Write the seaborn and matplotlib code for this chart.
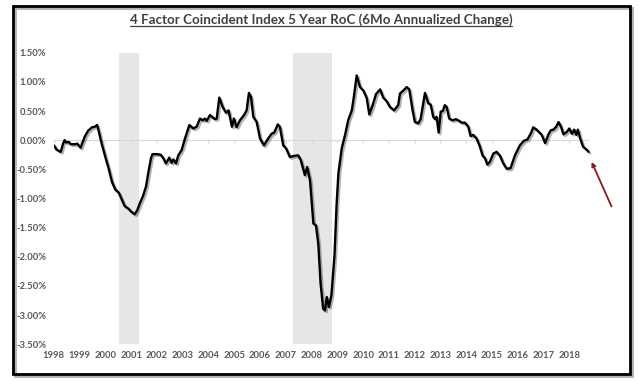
import numpy as np
import pandas as pd
import matplotlib
matplotlib.use("Agg")
import matplotlib.pyplot as plt
import matplotlib.patheffects as pe
from matplotlib.patches import Rectangle
from matplotlib.lines import Line2D
import seaborn as sns

# data (decimal year, % change)
years = [1998.01, 1998.10, 1998.27, 1998.36, 1998.42, 1998.48, 1998.58, 1998.66, 1998.81, 1998.91,
         1999.04, 1999.20, 1999.33, 1999.48, 1999.59, 1999.68, 1999.74, 1999.84, 2000.00, 2000.13,
         2000.26, 2000.39, 2000.52, 2000.65, 2000.75, 2000.91, 2001.01, 2001.14, 2001.24, 2001.34,
         2001.46, 2001.58, 2001.67, 2001.77, 2001.83, 2002.00, 2002.15, 2002.25, 2002.35, 2002.48,
         2002.57, 2002.64, 2002.74, 2002.83, 2002.96, 2003.09, 2003.26, 2003.41, 2003.54, 2003.67,
         2003.78, 2003.86, 2003.93, 2004.06, 2004.25, 2004.32, 2004.42, 2004.55, 2004.68, 2004.78,
         2004.91, 2004.99, 2005.09, 2005.22, 2005.38, 2005.48, 2005.57, 2005.65, 2005.74, 2005.87,
         2006.00, 2006.15, 2006.32, 2006.45, 2006.55, 2006.69, 2006.77, 2006.90, 2007.01, 2007.16,
         2007.32, 2007.48, 2007.58, 2007.74, 2007.83, 2007.94, 2008.07, 2008.17, 2008.26, 2008.35,
         2008.45, 2008.52, 2008.59, 2008.67, 2008.77, 2008.89, 2008.97, 2009.04, 2009.17, 2009.30,
         2009.42, 2009.56, 2009.64, 2009.75, 2009.88, 2010.01, 2010.14, 2010.24, 2010.37, 2010.50,
         2010.66, 2010.78, 2010.91, 2011.04, 2011.20, 2011.36, 2011.43, 2011.56, 2011.69, 2011.79,
         2011.92, 2012.01, 2012.14, 2012.23, 2012.40, 2012.53, 2012.62, 2012.72, 2012.79, 2012.85,
         2012.93, 2013.01, 2013.09, 2013.17, 2013.24, 2013.34, 2013.47, 2013.60, 2013.73, 2013.82,
         2013.95, 2014.08, 2014.17, 2014.27, 2014.40, 2014.53, 2014.64, 2014.73, 2014.82, 2014.92,
         2015.05, 2015.18, 2015.31, 2015.44, 2015.57, 2015.72, 2015.89, 2016.08, 2016.24, 2016.37,
         2016.50, 2016.60, 2016.73, 2016.93, 2017.06, 2017.19, 2017.28, 2017.38, 2017.49, 2017.58,
         2017.67, 2017.77, 2017.90, 2018.00, 2018.10, 2018.19, 2018.27, 2018.33, 2018.42, 2018.53,
         2018.66, 2018.75]
roc = [-0.09, -0.16, -0.20, -0.06, 0.00, -0.04, -0.03, -0.07, -0.07, -0.06,
       -0.13, 0.06, 0.16, 0.22, 0.23, 0.26, 0.16, -0.03, -0.29, -0.49,
       -0.72, -0.85, -0.90, -1.03, -1.13, -1.18, -1.23, -1.27, -1.20, -1.08,
       -0.96, -0.79, -0.55, -0.31, -0.24, -0.24, -0.25, -0.31, -0.40, -0.30,
       -0.39, -0.33, -0.40, -0.26, -0.17, 0.03, 0.26, 0.20, 0.23, 0.37,
       0.34, 0.37, 0.33, 0.43, 0.36, 0.37, 0.73, 0.57, 0.47, 0.51,
       0.23, 0.37, 0.22, 0.34, 0.43, 0.51, 0.81, 0.74, 0.40, 0.31,
       0.03, -0.09, 0.03, 0.11, 0.13, 0.27, 0.23, -0.09, -0.14, -0.29,
       -0.27, -0.26, -0.34, -0.60, -0.46, -0.69, -1.43, -1.46, -1.77, -2.46,
       -2.89, -2.92, -2.69, -2.86, -2.66, -1.97, -1.11, -0.57, -0.14, 0.09,
       0.34, 0.51, 0.74, 1.11, 0.91, 0.85, 0.72, 0.44, 0.60, 0.79,
       0.87, 0.73, 0.67, 0.57, 0.51, 0.60, 0.80, 0.85, 0.91, 0.87,
       0.51, 0.31, 0.29, 0.36, 0.81, 0.63, 0.61, 0.40, 0.36, 0.40,
       0.13, 0.49, 0.50, 0.60, 0.57, 0.37, 0.34, 0.36, 0.33, 0.30,
       0.30, 0.23, 0.07, 0.09, 0.03, -0.11, -0.27, -0.31, -0.42, -0.37,
       -0.23, -0.20, -0.27, -0.40, -0.49, -0.48, -0.26, -0.09, -0.01, 0.01,
       0.11, 0.22, 0.18, 0.09, -0.05, 0.10, 0.17, 0.18, 0.23, 0.31,
       0.24, 0.10, 0.14, 0.20, 0.11, 0.18, 0.09, 0.18, 0.03, -0.11,
       -0.16, -0.20]

recessions = [(2000.53, 2001.30), (2007.29, 2008.79)]
year_labels = list(range(1998, 2019))
y_ticks = [1.5, 1.0, 0.5, 0.0, -0.5, -1.0, -1.5, -2.0, -2.5, -3.0, -3.5]
arrow_head = (2018.82, -0.33)
arrow_tail = (2019.68, -1.18)

df = pd.DataFrame({"year": years, "roc": roc})

sns.set_style("white")
plt.rcParams['font.family'] = ['Lato', 'DejaVu Sans']

fig = plt.figure(figsize=(6.4, 3.84), dpi=100)
ax = fig.add_axes([53.8 / 640, 0.1034, 567.1 / 640, 0.7594])

for a, b in recessions:
    ax.axvspan(a, b, color="#e6e6e6", lw=0, zorder=0)

# zero axis line with small year ticks
ax.hlines(0, years[0], years[-1], color="#d9d9d9", lw=0.8, zorder=1)
ax.vlines(year_labels, 0, -0.05, color="#d9d9d9", lw=0.8, zorder=1)

sns.lineplot(data=df, x="year", y="roc", ax=ax, color="black", lw=1.7, zorder=3,
             path_effects=[pe.SimpleLineShadow(offset=(1.2, -1.2), alpha=0.3), pe.Normal()])

ax.annotate("", xy=arrow_head, xytext=arrow_tail, annotation_clip=False,
            arrowprops=dict(arrowstyle="-|>", color="#8b1a1a", lw=1.3, mutation_scale=6))

ax.set_xlim(1998, 2020)
ax.set_ylim(-3.5, 1.5)
ax.set_yticks(y_ticks)
ax.set_yticklabels([f"{v:.2f}%" for v in y_ticks])
ax.set_xticks(year_labels)
ax.set_xticklabels([str(y) for y in year_labels])
ax.tick_params(axis="both", length=0, labelsize=6.8, labelcolor="#595959")
ax.tick_params(axis="y", pad=5.5)
ax.tick_params(axis="x", pad=5)
for lbl in ax.get_xticklabels() + ax.get_yticklabels():
    lbl.set_fontweight("bold")
ax.set_xlabel("")
ax.set_ylabel("")
for s in ax.spines.values():
    s.set_visible(False)
ax.patch.set_alpha(0)

# outer frame with shadow
fig.patches.append(Rectangle((14.5 / 640, 1 - 376 / 384), 617 / 640, 368 / 384,
                             transform=fig.transFigure, fill=False, ec="#b0b0b0", lw=2, zorder=0))
fig.patches.append(Rectangle((12.5 / 640, 1 - 374 / 384), 617 / 640, 368 / 384,
                             transform=fig.transFigure, fill=False, ec="black", lw=2, zorder=1))

title = fig.text(321 / 640, 1 - 20 / 384, "4 Factor Coincident Index 5 Year RoC (6Mo Annualized Change)",
                 ha="center", va="center", fontsize=9.6, fontweight="bold", color="#404040")
fig.canvas.draw()
bb = title.get_window_extent()
uy = bb.y0 + 0.5
fig.lines.append(Line2D([bb.x0 / 640, bb.x1 / 640], [uy / 384, uy / 384], transform=fig.transFigure,
                        color="#404040", lw=0.9))

fig.savefig("out.png", dpi=100)
